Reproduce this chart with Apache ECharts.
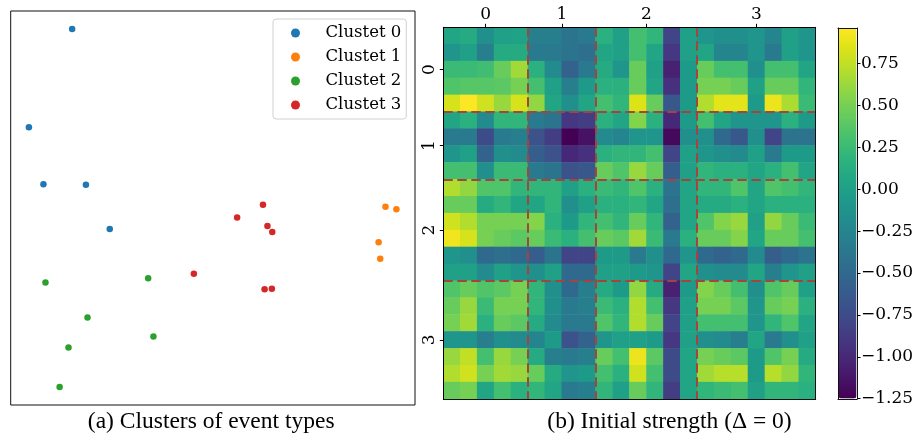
<!DOCTYPE html>
<html><head><meta charset="utf-8">
<script src="https://cdn.jsdelivr.net/npm/echarts@6/dist/echarts.min.js"></script>
<style>html,body{margin:0;padding:0;background:#fff}#c{width:922px;height:436px}</style>
</head><body><div id="c"></div>
<script>
// ---------- data ----------
const clusterNames = ['Clustet 0', 'Clustet 1', 'Clustet 2', 'Clustet 3'];
const clusterColors = ['#1f77b4', '#ff7f0e', '#2ca02c', '#d62728'];
const cluster0 = [[15.2, 95.4], [4.5, 70.5], [8.1, 56.0], [18.6, 55.9], [24.5, 44.7]];
const cluster1 = [[92.7, 50.3], [95.4, 49.7], [91.0, 41.3], [91.4, 37.1]];
const cluster2 = [[8.6, 31.1], [34.0, 32.2], [19.0, 22.2], [35.3, 17.4], [14.3, 14.6], [12.1, 4.6]];
const cluster3 = [[62.4, 50.8], [56.0, 47.6], [63.5, 45.4], [64.7, 43.9], [45.3, 33.3], [62.8, 29.4], [64.6, 29.5]];

const clusterSizes = [5, 4, 6, 7];
const clusterTickLabels = ['0', '1', '2', '3'];
const colorbarTicks = [-1.25, -1.0, -0.75, -0.5, -0.25, 0, 0.25, 0.5, 0.75];
const strengthMin = -1.252, strengthMax = 0.963;

const strengthRows = [
  [0.05, 0.1, -0.15, 0.0, 0.02, -0.3, -0.3, -0.4, -0.35, 0.15, 0.0, 0.3, 0.2, -0.8, 0.0, -0.1, -0.15, -0.15, -0.1, -0.25, 0.0, -0.1],
  [-0.1, 0.0, -0.3, 0.1, 0.1, -0.35, -0.35, -0.4, -0.45, 0.05, 0.0, 0.3, 0.05, -0.9, 0.0, 0.05, -0.25, -0.25, -0.1, -0.35, 0.0, -0.1],
  [0.25, 0.25, 0.28, 0.45, 0.65, 0.15, -0.2, -0.55, -0.35, 0.1, -0.1, 0.45, 0.0, -1.05, -0.05, 0.45, 0.3, 0.3, -0.15, 0.3, 0.3, 0.05],
  [0.35, 0.38, 0.38, 0.4, 0.5, 0.3, 0.0, -0.3, -0.05, 0.15, 0.15, 0.45, 0.05, -0.95, -0.05, 0.5, 0.5, 0.45, 0.0, 0.45, 0.45, 0.2],
  [0.82, 0.96, 0.8, 0.62, 0.82, 0.6, 0.05, -0.15, 0.05, 0.3, 0.2, 0.85, 0.45, -0.65, -0.05, 0.7, 0.87, 0.87, -0.05, 0.9, 0.68, 0.25],
  [0.05, 0.15, -0.2, 0.2, 0.2, -0.35, -0.4, -0.9, -0.85, 0.15, 0.05, 0.55, 0.15, -1.0, -0.05, 0.3, 0.05, -0.1, -0.1, -0.1, 0.15, -0.05],
  [-0.35, -0.35, -0.75, -0.35, -0.3, -0.7, -0.85, -1.25, -1.15, -0.2, -0.25, -0.1, -0.1, -1.2, -0.15, -0.15, -0.5, -0.65, -0.15, -0.8, -0.4, -0.4],
  [-0.1, 0.0, -0.55, -0.15, -0.2, -0.6, -0.7, -1.0, -0.95, 0.15, 0.2, 0.2, 0.3, -0.8, 0.0, -0.1, -0.15, -0.2, 0.0, -0.35, -0.05, -0.05],
  [0.3, 0.3, -0.15, 0.25, 0.25, -0.35, -0.4, -0.7, -0.65, 0.45, 0.35, 0.62, 0.45, -0.6, 0.0, 0.2, 0.15, 0.15, 0.05, 0.15, 0.3, 0.05],
  [0.7, 0.6, 0.35, 0.35, 0.2, 0.2, 0.2, 0.0, 0.15, 0.25, 0.2, 0.35, 0.15, -0.4, 0.05, 0.2, 0.2, 0.35, 0.05, 0.35, 0.3, 0.2],
  [0.45, 0.45, 0.1, 0.2, 0.05, 0.05, 0.2, -0.15, 0.0, 0.15, 0.15, 0.2, 0.05, -0.45, 0.05, 0.1, 0.1, 0.15, 0.05, 0.15, 0.15, 0.15],
  [0.8, 0.7, 0.5, 0.5, 0.5, 0.55, 0.15, -0.05, 0.2, 0.3, 0.2, 0.45, 0.2, -0.55, 0.05, 0.35, 0.55, 0.62, 0.0, 0.6, 0.45, 0.25],
  [0.92, 0.82, 0.5, 0.45, 0.4, 0.45, 0.25, 0.15, 0.3, 0.45, 0.4, 0.65, 0.25, -0.35, 0.15, 0.45, 0.45, 0.55, 0.05, 0.45, 0.45, 0.3],
  [-0.1, -0.15, -0.5, -0.45, -0.5, -0.6, -0.4, -0.8, -0.8, -0.05, -0.05, -0.35, -0.15, -0.5, -0.1, -0.5, -0.55, -0.5, -0.2, -0.6, -0.5, -0.4],
  [0.0, 0.0, -0.2, 0.0, -0.1, -0.15, 0.0, -0.5, -0.5, 0.0, 0.0, -0.05, -0.1, -0.8, 0.05, -0.15, -0.2, -0.2, 0.05, -0.3, -0.1, 0.0],
  [0.35, 0.45, 0.35, 0.4, 0.5, 0.2, -0.15, -0.5, -0.3, 0.1, -0.05, 0.6, 0.1, -1.05, -0.05, 0.55, 0.45, 0.3, -0.15, 0.35, 0.45, 0.0],
  [0.45, 0.62, 0.25, 0.5, 0.5, 0.2, -0.15, -0.35, -0.3, 0.25, 0.15, 0.7, 0.3, -0.9, 0.0, 0.5, 0.5, 0.4, -0.1, 0.45, 0.5, 0.15],
  [0.5, 0.65, 0.15, 0.45, 0.4, 0.1, -0.2, -0.35, -0.35, 0.35, 0.2, 0.7, 0.45, -0.8, 0.0, 0.3, 0.3, 0.3, -0.1, 0.2, 0.35, 0.05],
  [-0.1, -0.1, -0.3, -0.15, -0.2, -0.25, -0.05, -0.7, -0.55, -0.1, 0.0, 0.0, -0.05, -0.9, 0.0, -0.15, -0.2, -0.3, 0.05, -0.35, -0.15, 0.0],
  [0.62, 0.75, 0.3, 0.62, 0.5, 0.1, -0.3, -0.35, -0.3, 0.45, 0.3, 0.9, 0.4, -0.75, 0.05, 0.5, 0.45, 0.4, -0.05, 0.35, 0.5, 0.1],
  [0.7, 0.8, 0.5, 0.65, 0.62, 0.45, 0.1, -0.1, -0.05, 0.3, 0.15, 0.8, 0.3, -0.75, 0.05, 0.65, 0.72, 0.72, -0.05, 0.72, 0.6, 0.2],
  [0.45, 0.5, 0.05, 0.3, 0.15, 0.2, 0.05, -0.35, -0.3, 0.2, 0.0, 0.45, 0.2, -0.85, 0.05, 0.2, 0.25, 0.3, 0.0, 0.2, 0.2, 0.15]
];

const viridis = ['#440154', '#471365', '#482475', '#463480', '#414487', '#3b528b', '#355f8d', '#2f6c8e', '#2a788e', '#25848e',
  '#21918c', '#1e9c89', '#22a884', '#2fb47c', '#44bf70', '#5ec962', '#7ad151', '#9bd93c', '#bddf26', '#dfe318', '#fde725'];

// ---------- derived ----------
const nTypes = strengthRows.length;
const typeIdx = strengthRows.map((_, i) => String(i));
const heatData = [];
strengthRows.forEach((row, r) => row.forEach((v, c) => heatData.push([c, r, v])));
const centers = [], bounds = [];
let acc = 0;
clusterSizes.forEach((s, i) => { centers.push(acc + s / 2); acc += s; if (i < clusterSizes.length - 1) bounds.push(acc); });
const lineData = [];
bounds.forEach(b => { lineData.push({ coords: [[b, 0], [b, nTypes]] }); lineData.push({ coords: [[0, b], [nTypes, b]] }); });
const tickLabel = v => { const i = centers.findIndex(c => Math.abs(c - v) < 1e-6); return i >= 0 ? clusterTickLabels[i] : ''; };
const cbLabel = v => (v < 0 ? '\u2212' : '') + Math.abs(v).toFixed(2);

const serif = 'DejaVu Serif';
const lblFont = 17;
const clusters = [cluster0, cluster1, cluster2, cluster3];
const frameAxis = (extra) => Object.assign({
  type: 'value', z: 6,
  axisLine: { show: true, onZero: false, lineStyle: { color: '#111', width: 1 } },
  axisTick: { show: false }, axisLabel: { show: false }, splitLine: { show: false }
}, extra);

const chart = echarts.init(document.getElementById('c'), null, { renderer: 'canvas' });
const option = {
  animation: false,
  grid: [
    { left: 10.7, top: 11, width: 404.3, height: 394, show: true, borderColor: '#111', borderWidth: 1, backgroundColor: 'transparent' },
    { left: 443.3, top: 27.3, width: 372.4, height: 371.7 },
    { left: 838, top: 28, width: 19, height: 371 }
  ],
  xAxis: [
    { gridIndex: 0, type: 'value', min: 0, max: 100, show: false },
    { gridIndex: 1, type: 'category', data: typeIdx, show: false },
    { gridIndex: 1, type: 'value', min: 0, max: nTypes, position: 'top', z: 5,
      axisLine: { show: true, onZero: false, lineStyle: { color: '#000', width: 1 } },
      axisTick: { show: true, customValues: centers, length: 3.5, lineStyle: { color: '#000' } },
      axisLabel: { customValues: centers, formatter: tickLabel, fontFamily: serif, fontSize: lblFont, color: '#000', margin: 4 },
      splitLine: { show: false } },
    frameAxis({ gridIndex: 1, min: 0, max: nTypes, position: 'bottom' }),
    frameAxis({ gridIndex: 2, min: 0, max: 1, position: 'bottom' }),
    frameAxis({ gridIndex: 2, min: 0, max: 1, position: 'top' })
  ],
  yAxis: [
    { gridIndex: 0, type: 'value', min: 0, max: 100, show: false },
    { gridIndex: 1, type: 'category', data: typeIdx, inverse: true, show: false },
    { gridIndex: 1, type: 'value', min: 0, max: nTypes, inverse: true, position: 'left', z: 5,
      axisLine: { show: true, onZero: false, lineStyle: { color: '#000', width: 1 } },
      axisTick: { show: true, customValues: centers, length: 3.5, lineStyle: { color: '#000' } },
      axisLabel: { customValues: centers, formatter: tickLabel, rotate: 90, fontFamily: serif, fontSize: lblFont, color: '#000', margin: 5 },
      splitLine: { show: false } },
    frameAxis({ gridIndex: 1, min: 0, max: nTypes, inverse: true, position: 'right' }),
    { gridIndex: 2, type: 'value', min: strengthMin, max: strengthMax, position: 'right', z: 6,
      axisLine: { show: true, onZero: false, lineStyle: { color: '#111', width: 1 } },
      axisTick: { show: true, customValues: colorbarTicks, length: 3.5, lineStyle: { color: '#000' } },
      axisLabel: { customValues: colorbarTicks, formatter: cbLabel, fontFamily: serif, fontSize: lblFont, color: '#000', margin: 4 },
      splitLine: { show: false } },
    frameAxis({ gridIndex: 2, min: 0, max: 1, position: 'left' })
  ],
  legend: {
    data: clusterNames, orient: 'vertical', left: 273, top: 19, icon: 'circle',
    itemWidth: 20, itemHeight: 9, itemGap: 4, padding: [4, 5, 4, 18],
    borderColor: '#d0d0d0', borderWidth: 1, borderRadius: 3, backgroundColor: '#fff',
    textStyle: { fontFamily: serif, fontSize: 16.5, color: '#000', lineHeight: 20, padding: [0, 0, 0, 15] }
  },
  visualMap: {
    type: 'continuous', min: strengthMin, max: strengthMax, seriesIndex: 4, calculable: false, show: true,
    left: 838.5, top: 28.5, itemWidth: 18, itemHeight: 370, padding: 0, borderWidth: 0,
    inRange: { color: viridis }, textStyle: { color: 'transparent' }
  },
  series: [
    ...clusters.map((d, i) => ({
      name: clusterNames[i], type: 'scatter', xAxisIndex: 0, yAxisIndex: 0, data: d,
      symbolSize: 6.5, itemStyle: { color: clusterColors[i], opacity: 1 }, silent: true
    })),
    { type: 'heatmap', xAxisIndex: 1, yAxisIndex: 1, data: heatData, silent: true, itemStyle: { borderWidth: 0 } },
    { type: 'lines', coordinateSystem: 'cartesian2d', xAxisIndex: 2, yAxisIndex: 2, data: lineData, silent: true, z: 4,
      lineStyle: { color: '#a5433d', width: 2, type: [9.5, 4.5], opacity: 1 } }
  ],
  graphic: [
    { type: 'text', x: 211.2, y: 422, style: { text: '(a) Clusters of event types', font: '23.5px "Liberation Serif"', fill: '#000', textAlign: 'center', textVerticalAlign: 'middle' } },
    { type: 'text', x: 669.5, y: 422, style: { text: '(b) Initial strength (\u0394 = 0)', font: '23.5px "Liberation Serif"', fill: '#000', textAlign: 'center', textVerticalAlign: 'middle' } }
  ]
};
chart.setOption(option);
</script></body></html>
